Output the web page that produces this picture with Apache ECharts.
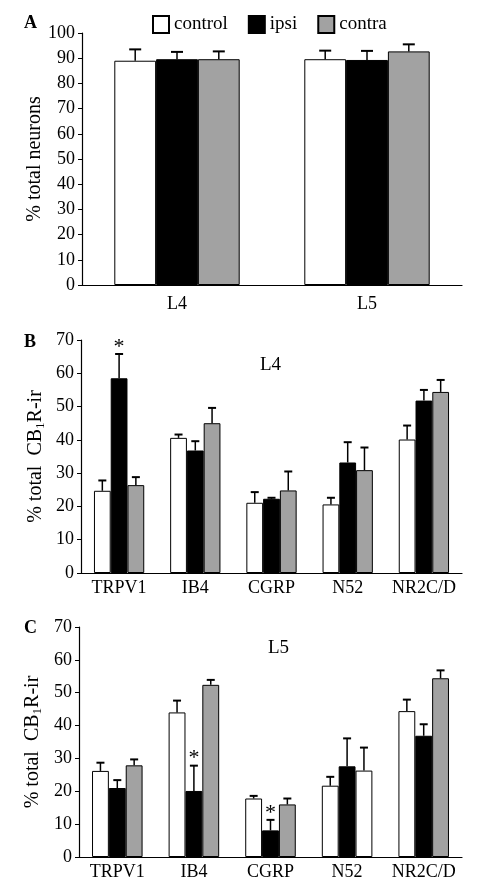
<!DOCTYPE html>
<html><head><meta charset="utf-8">
<script src="https://cdn.jsdelivr.net/npm/echarts@6/dist/echarts.min.js"></script>
<style>html,body{margin:0;padding:0;background:#fff}#c{width:478px;height:890px}</style>
</head><body><div id="c"></div>
<script>
// Panel A
const aCats = ['L4', 'L5'];
const aControl = [89.0, 89.6];
const aControlErr = [4.5, 3.4];
const aIpsi = [89.6, 89.3];
const aIpsiErr = [2.9, 3.6];
const aContra = [89.6, 92.7];
const aContraErr = [3.1, 2.8];
const aTicks = [0, 10, 20, 30, 40, 50, 60, 70, 80, 90, 100];

// Panel B (L4)
const bcCats = ['TRPV1', 'IB4', 'CGRP', 'N52', 'NR2C/D'];
const bControl = [24.7, 40.6, 21.1, 20.6, 40.1];
const bControlErr = [3.1, 1.0, 3.2, 2.0, 4.2];
const bIpsi = [58.5, 36.8, 22.3, 33.2, 51.8];
const bIpsiErr = [7.3, 2.8, 0.3, 6.1, 3.2];
const bContra = [26.4, 45.0, 24.8, 30.9, 54.4];
const bContraErr = [2.4, 4.6, 5.7, 6.8, 3.6];
const bStars = [[0, 1]]; // [category, series]

// Panel C (L5)
const cControl = [26.2, 44.0, 17.8, 21.7, 44.4];
const cControlErr = [2.5, 3.6, 0.8, 2.7, 3.5];
const cIpsi = [21.0, 20.1, 8.1, 27.6, 36.9];
const cIpsiErr = [2.4, 7.7, 3.2, 8.5, 3.5];
const cContra = [27.9, 52.4, 16.0, 26.3, 54.4];
const cContraErr = [1.8, 1.5, 1.8, 7.0, 2.4];
const cStars = [[1, 1], [2, 1]];
const cWhiteContra = [3]; // N52 contra bar drawn white in the original

const seriesNames = ['control', 'ipsi', 'contra'];
const FONT = 'Liberation Serif';
const colors = ['#ffffff', '#000000', '#a2a2a2'];
const BARW = 0.22;

function makeBars(gi, vals, whiteIdx) {
  return vals.map((v, si) => ({
    type: 'bar', name: seriesNames[si], xAxisIndex: gi, yAxisIndex: gi,
    barWidth: '22%', barGap: '0%',
    itemStyle: { color: colors[si], borderColor: '#000', borderWidth: 1 },
    data: v.map((y, i) => (si === 2 && whiteIdx && whiteIdx.indexOf(i) >= 0)
      ? { value: y, itemStyle: { color: '#ffffff' } } : y),
    z: 2
  }));
}

function makeErr(gi, vals, errs, stars, capW) {
  const data = [];
  vals.forEach((v, si) => v.forEach((y, ci) => data.push([ci, si, y, y + errs[si][ci], 0])));
  stars.forEach(s => {
    const ci = s[0], si = s[1];
    data.push([ci, si, vals[si][ci], vals[si][ci] + errs[si][ci], 1]);
  });
  return {
    type: 'custom', xAxisIndex: gi, yAxisIndex: gi, z: 3, silent: true,
    encode: { x: 0, y: 3 },
    renderItem: function (params, api) {
      const ci = api.value(0), si = api.value(1), mean = api.value(2), top = api.value(3), star = api.value(4);
      const band = api.size([1, 0])[0];
      const c = api.coord([ci, top]);
      const x = c[0] + (si - 1) * band * BARW;
      const yTop = c[1];
      const yMean = api.coord([ci, mean])[1];
      if (star) {
        return { type: 'text', style: { text: '*', x: x, y: yTop + 4, align: 'center', verticalAlign: 'bottom',
          font: '22px "' + FONT + '"', fill: '#000' } };
      }
      return { type: 'group', children: [
        { type: 'line', shape: { x1: x, y1: yMean, x2: x, y2: yTop }, style: { stroke: '#000', lineWidth: 1.5 } },
        { type: 'line', shape: { x1: x - capW / 2, y1: yTop, x2: x + capW / 2, y2: yTop }, style: { stroke: '#000', lineWidth: 2 } }
      ] };
    },
    data: data
  };
}

const axisLine = { show: true, lineStyle: { color: '#000', width: 1.2 } };
const labelStyle = { color: '#000', fontFamily: FONT, fontSize: 18 };

function xAx(gi, cats, margin) {
  return { type: 'category', gridIndex: gi, data: cats, axisLine: axisLine, axisTick: { show: false },
    axisLabel: Object.assign({ margin: margin, interval: 0 }, labelStyle) };
}
function yAx(gi, max, name, gap, rich) {
  return { type: 'value', gridIndex: gi, min: 0, max: max, interval: 10,
    axisLine: axisLine, axisTick: { show: true, length: 4, lineStyle: { color: '#000' } },
    splitLine: { show: false },
    axisLabel: Object.assign({ margin: 7 }, labelStyle),
    name: name, nameLocation: 'middle', nameRotate: 90, nameGap: gap, nameMoveOverlap: false,
    nameTextStyle: Object.assign({ rich: rich || {} }, labelStyle, { fontSize: 20 }) };
}

const cbRich = {
  t: { fontFamily: FONT, fontSize: 20, color: '#000' },
  s: { fontFamily: FONT, fontSize: 13, color: '#000', padding: [10, 0, 0, 0] }
};
const cbName = '{t|% total  CB}{s|1}{t|R-ir}';

const tStyle = (sz, bold) => ({ fontFamily: FONT, fontSize: sz, fontWeight: bold ? 'bold' : 'normal', color: '#000' });

const option = {
  animation: false,
  backgroundColor: '#fff',
  textStyle: { fontFamily: FONT },
  title: [
    { text: 'A', left: 24, top: 14, padding: 0, textStyle: tStyle(18, true) },
    { text: 'B', left: 24, top: 333, padding: 0, textStyle: tStyle(18, true) },
    { text: 'C', left: 24, top: 619, padding: 0, textStyle: tStyle(18, true) },
    { text: 'L4', left: 260, top: 356, padding: 0, textStyle: tStyle(19) },
    { text: 'L5', left: 268, top: 639, padding: 0, textStyle: tStyle(19) }
  ],
  legend: {
    left: 152, top: 15, padding: 0, itemWidth: 16, itemHeight: 17, itemGap: 20, icon: 'rect',
    textStyle: { fontFamily: FONT, fontSize: 19, color: '#000' },
    data: seriesNames
  },
  grid: [
    { left: 82, width: 380, top: 33, height: 252 },
    { left: 81, width: 381, top: 340, height: 233 },
    { left: 79, width: 383, top: 627, height: 230 }
  ],
  xAxis: [xAx(0, aCats, 10), xAx(1, bcCats, 6), xAx(2, bcCats, 6)],
  yAxis: [yAx(0, 100, '% total neurons', 37), yAx(1, 70, cbName, 34, cbRich), yAx(2, 70, cbName, 35, cbRich)],
  series: [].concat(
    makeBars(0, [aControl, aIpsi, aContra]),
    makeBars(1, [bControl, bIpsi, bContra]),
    makeBars(2, [cControl, cIpsi, cContra], cWhiteContra),
    [makeErr(0, [aControl, aIpsi, aContra], [aControlErr, aIpsiErr, aContraErr], [], 12),
     makeErr(1, [bControl, bIpsi, bContra], [bControlErr, bIpsiErr, bContraErr], bStars, 8),
     makeErr(2, [cControl, cIpsi, cContra], [cControlErr, cIpsiErr, cContraErr], cStars, 8)]
  )
};
const chart = echarts.init(document.getElementById('c'), null, { renderer: 'canvas' });
chart.setOption(option);
</script></body></html>
